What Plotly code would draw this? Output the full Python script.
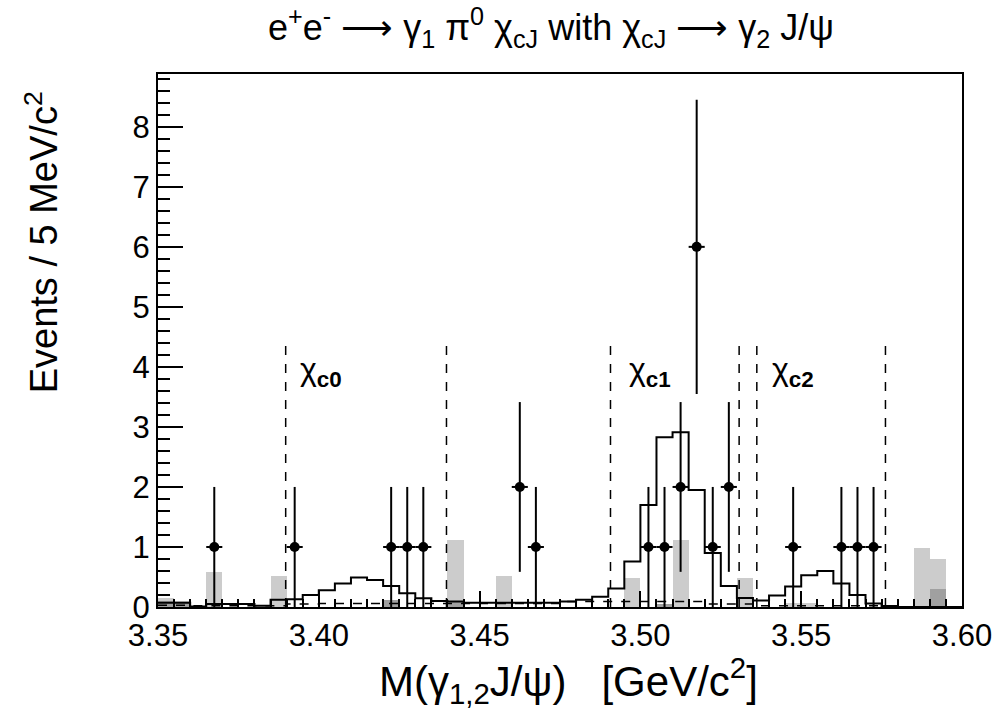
import numpy as np
import plotly.graph_objects as go

# ---- data ----
bin_lo = 3.35
bin_w = 0.005
n_bins = 50

# solid MC signal shape
solid = [0.07, 0.07, 0.01, 0.05, 0.05, 0.05, 0.02, 0.12, 0.13, 0.20,
         0.28, 0.39, 0.49, 0.45, 0.35, 0.23, 0.145, 0.10, 0.09, 0.07,
         0.07, 0.07, 0.07, 0.07, 0.07, 0.09, 0.12, 0.17, 0.31, 0.76,
         1.70, 2.83, 2.91, 1.95, 0.90, 0.35, 0.15, 0.11, 0.19, 0.34,
         0.53, 0.60, 0.39, 0.20, 0.06, 0.015, 0.0, 0.0, 0.0, 0.0]

# dashed background shape
dashed = [0.03, 0.03, 0.02, 0.02, 0.02, 0.02, 0.02, 0.02, 0.05, 0.05,
          0.06, 0.06, 0.06, 0.06, 0.06, 0.06, 0.06, 0.06, 0.06, 0.06,
          0.06, 0.06, 0.06, 0.06, 0.06, 0.09, 0.09, 0.09, 0.09, 0.09,
          0.09, 0.09, 0.09, 0.09, 0.05, 0.05, 0.05, 0.02, 0.02, 0.02,
          0.02, 0.02, 0.02, 0.02, 0.02, 0.02, 0.0, 0.0, 0.0, 0.0]

# light gray filled histogram
light = [0.15, 0.10, 0.0, 0.58, 0.0, 0.0, 0.0, 0.52, 0.0, 0.0,
         0.0, 0.0, 0.0, 0.0, 0.0, 0.0, 0.0, 0.0, 1.12, 0.0,
         0.0, 0.52, 0.0, 0.0, 0.0, 0.0, 0.0, 0.0, 0.0, 0.49,
         0.0, 0.0, 1.12, 0.0, 0.0, 0.0, 0.49, 0.0, 0.0, 0.06,
         0.06, 0.0, 0.0, 0.0, 0.0, 0.0, 0.0, 0.99, 0.80, 0.0]

# dark gray filled histogram
dark = [0.10, 0.07, 0.0, 0.0, 0.0, 0.0, 0.0, 0.0, 0.0, 0.0,
        0.0, 0.0, 0.0, 0.0, 0.12, 0.0, 0.0, 0.0, 0.08, 0.0,
        0.0, 0.0, 0.0, 0.0, 0.0, 0.0, 0.0, 0.0, 0.0, 0.0,
        0.0, 0.05, 0.0, 0.0, 0.0, 0.0, 0.0, 0.0, 0.0, 0.0,
        0.0, 0.0, 0.0, 0.0, 0.0, 0.0, 0.0, 0.0, 0.30, 0.0]

# data points
data_x = [3.3675, 3.3925, 3.4225, 3.4275, 3.4325, 3.4625, 3.4675,
          3.5025, 3.5075, 3.5125, 3.5175, 3.5225, 3.5275,
          3.5475, 3.5625, 3.5675, 3.5725]
data_y = [1, 1, 1, 1, 1, 2, 1,
          1, 1, 2, 6, 1, 2,
          1, 1, 1, 1]

# signal window boundaries
windows = [3.3897, 3.4397, 3.4907, 3.5307, 3.5362, 3.5762]
window_top = 4.4

x_ticks = [3.35, 3.40, 3.45, 3.50, 3.55, 3.60]
y_ticks = [0, 1, 2, 3, 4, 5, 6, 7, 8]

# ---- figure ----
edges = bin_lo + bin_w * np.arange(n_bins + 1)
centers = edges[:-1] + bin_w / 2

FONT = "Liberation Sans, Arial, Helvetica, sans-serif"

fig = go.Figure()

fig.add_trace(go.Bar(x=centers, y=light, width=bin_w, marker=dict(color="#cccccc", line=dict(width=0)),
                     hoverinfo="skip", showlegend=False))
fig.add_trace(go.Bar(x=centers, y=dark, width=bin_w, marker=dict(color="#a0a0a0", line=dict(width=0)),
                     hoverinfo="skip", showlegend=False))

def step(vals):
    v = list(vals) + [vals[-1]]
    return list(edges), v

sx, sy = step(solid)
fig.add_trace(go.Scatter(x=sx, y=sy, mode="lines", line=dict(shape="hv", color="black", width=2),
                         showlegend=False, hoverinfo="skip"))
dx, dy = step(dashed)
fig.add_trace(go.Scatter(x=dx, y=dy, mode="lines", line=dict(shape="hv", color="black", width=1.5, dash="dash"),
                         showlegend=False, hoverinfo="skip"))

for w in windows:
    fig.add_shape(type="line", x0=w, x1=w, y0=0, y1=window_top, xref="x", yref="y",
                  line=dict(color="black", width=1.5, dash="dash"))

fig.add_trace(go.Scatter(
    x=data_x, y=data_y, mode="markers",
    marker=dict(color="black", size=10, symbol="circle"),
    error_y=dict(type="data", array=list(np.sqrt(data_y)), color="black", thickness=2, width=0),
    error_x=dict(type="constant", value=bin_w / 2, color="black", thickness=2, width=0),
    showlegend=False, hoverinfo="skip"))

fig.update_layout(
    width=994, height=713,
    margin=dict(l=158, r=32, t=74, b=106, autoexpand=False),
    paper_bgcolor="white", plot_bgcolor="white",
    bargap=0, barmode="overlay",
    font=dict(family=FONT, color="black"),
)

fig.update_xaxes(
    range=[3.35, 3.60], tickvals=x_ticks, ticktext=[f"{t:.2f}" for t in x_ticks],
    ticks="inside", ticklen=16, tickwidth=1.5, tickcolor="black",
    minor=dict(dtick=bin_w, tick0=3.35, ticks="inside", ticklen=8, tickwidth=1.5, tickcolor="black"),
    showline=True, linecolor="black", linewidth=2, mirror=True,
    showgrid=False, zeroline=False,
    tickfont=dict(size=31, family=FONT),
)
fig.update_yaxes(
    range=[0, 8.88], tickvals=y_ticks,
    ticks="inside", ticklen=25, tickwidth=1.5, tickcolor="black",
    minor=dict(dtick=0.2, tick0=0, ticks="inside", ticklen=12, tickwidth=1.5, tickcolor="black"),
    showline=True, linecolor="black", linewidth=2, mirror=True,
    showgrid=False, zeroline=False,
    tickfont=dict(size=31, family=FONT),
)

annotations = [
    dict(text="e<sup>+</sup>e<sup>-</sup> ⟶ γ<sub>1</sub> π<sup>0</sup> χ<sub>cJ</sub> with χ<sub>cJ</sub> ⟶ γ<sub>2</sub> J/ψ",
         x=0.489, y=1.088, xref="paper", yref="paper", showarrow=False,
         font=dict(size=36, family=FONT), xanchor="center", yanchor="middle"),
    dict(text="Events / 5 MeV/c<sup>2</sup>", x=-0.145, y=0.685, xref="paper", yref="paper",
         showarrow=False, textangle=-90, font=dict(size=38, family=FONT),
         xanchor="center", yanchor="middle"),
    dict(text="M(γ<sub>1,2</sub>J/ψ)   [GeV/c<sup>2</sup>]", x=0.511, y=-0.137, xref="paper", yref="paper",
         showarrow=False, font=dict(size=42, family=FONT), xanchor="center", yanchor="middle"),
    dict(text="χ<sub><b>c0</b></sub>", x=3.3935, y=3.92, xref="x", yref="y", showarrow=False,
         font=dict(size=32, family=FONT), xanchor="left", yanchor="middle"),
    dict(text="χ<sub><b>c1</b></sub>", x=3.4958, y=3.92, xref="x", yref="y", showarrow=False,
         font=dict(size=32, family=FONT), xanchor="left", yanchor="middle"),
    dict(text="χ<sub><b>c2</b></sub>", x=3.5403, y=3.92, xref="x", yref="y", showarrow=False,
         font=dict(size=32, family=FONT), xanchor="left", yanchor="middle"),
]
fig.update_layout(annotations=annotations)

fig.write_html("out.html")
